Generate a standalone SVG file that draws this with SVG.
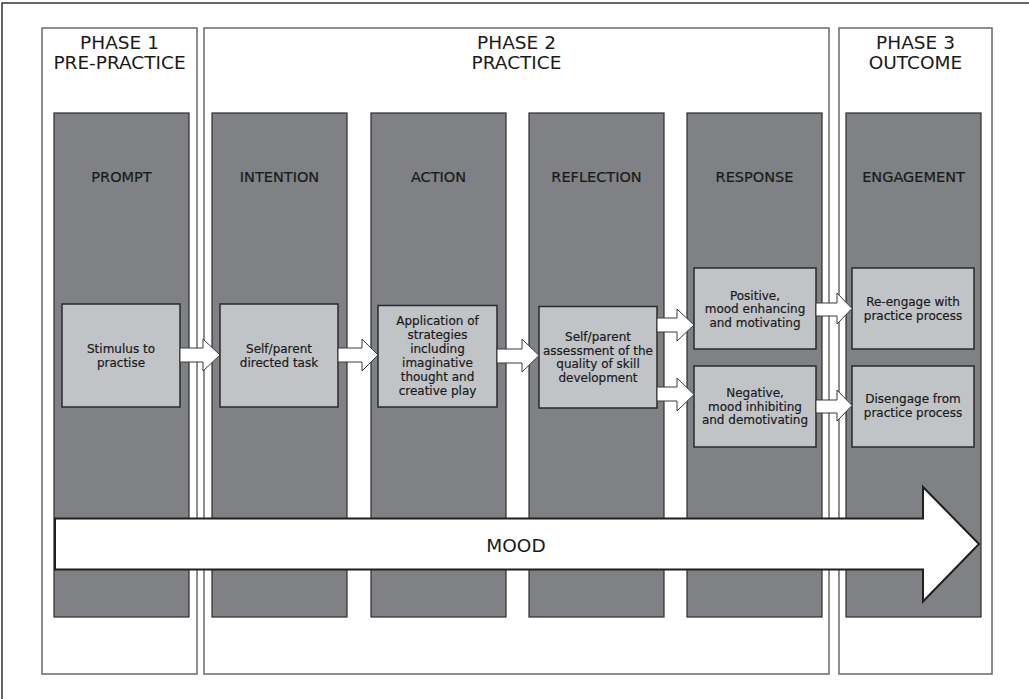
<svg xmlns="http://www.w3.org/2000/svg" width="1029" height="699" viewBox="0 0 1029 699">
<style>
.frame{fill:none;stroke:#333;stroke-width:1.5}
.phase{fill:#fff;stroke:#6a6a6a;stroke-width:1.5}
.col{fill:#7f8184;stroke:#2e2e2e;stroke-width:1.2}
.box{fill:#c1c4c7;stroke:#2a2a2a;stroke-width:1.5}
.arr{fill:#fff;stroke:#3a3a3a;stroke-width:1}
.mood{fill:#fff;stroke:#1e1e1e;stroke-width:2}
text{font-family:"DejaVu Sans","Liberation Sans",sans-serif;text-anchor:middle;fill:#1a1a1a;stroke:#1a1a1a;stroke-width:0.2}
.pt{font-size:18.5px;stroke:none}
.ch{font-size:14.5px}
.bt{font-size:12px}
</style>
<rect width="1029" height="699" fill="#fff"/>
<path class="frame" d="M2,699 V3 H1029"/>
<g id="phase1"><rect class="phase" x="42" y="28" width="155" height="646"/><text class="pt" x="119.5" y="49">PHASE 1</text><text class="pt" x="119.5" y="69">PRE-PRACTICE</text></g>
<g id="phase2"><rect class="phase" x="204" y="28" width="625" height="646"/><text class="pt" x="516.5" y="49">PHASE 2</text><text class="pt" x="516.5" y="69">PRACTICE</text></g>
<g id="phase3"><rect class="phase" x="839" y="28" width="153" height="646"/><text class="pt" x="915.5" y="49">PHASE 3</text><text class="pt" x="915.5" y="69">OUTCOME</text></g>
<g id="col-prompt"><rect class="col" x="54" y="113" width="135" height="504"/><text class="ch" x="121.5" y="182">PROMPT</text></g>
<g id="col-intention"><rect class="col" x="212" y="113" width="135" height="504"/><text class="ch" x="279.5" y="182">INTENTION</text></g>
<g id="col-action"><rect class="col" x="371" y="113" width="135" height="504"/><text class="ch" x="438.5" y="182">ACTION</text></g>
<g id="col-reflection"><rect class="col" x="529" y="113" width="135" height="504"/><text class="ch" x="596.5" y="182">REFLECTION</text></g>
<g id="col-response"><rect class="col" x="687" y="113" width="135" height="504"/><text class="ch" x="754.5" y="182">RESPONSE</text></g>
<g id="col-engagement"><rect class="col" x="846" y="113" width="135" height="504"/><text class="ch" x="913.5" y="182">ENGAGEMENT</text></g>
<g id="stimulus"><rect class="box" x="62" y="304" width="118" height="103"/><text class="bt" x="121" y="353">Stimulus to</text><text class="bt" x="121" y="366.5">practise</text></g>
<g id="directed"><rect class="box" x="220" y="304" width="118" height="103"/><text class="bt" x="279" y="353">Self/parent</text><text class="bt" x="279" y="366.5">directed task</text></g>
<g id="application"><rect class="box" x="378" y="305.5" width="119" height="101.5"/><text class="bt" x="437.5" y="325">Application of</text><text class="bt" x="437.5" y="339">strategies</text><text class="bt" x="437.5" y="353">including</text><text class="bt" x="437.5" y="367">imaginative</text><text class="bt" x="437.5" y="381">thought and</text><text class="bt" x="437.5" y="395">creative play</text></g>
<g id="assessment"><rect class="box" x="539" y="306.5" width="118" height="101.5"/><text class="bt" x="598" y="340.5">Self/parent</text><text class="bt" x="598" y="354.5">assessment of the</text><text class="bt" x="598" y="368">quality of skill</text><text class="bt" x="598" y="381.5">development</text></g>
<g id="positive"><rect class="box" x="694" y="268" width="122" height="81"/><text class="bt" x="755" y="299.5">Positive,</text><text class="bt" x="755" y="313">mood enhancing</text><text class="bt" x="755" y="326.5">and motivating</text></g>
<g id="negative"><rect class="box" x="694" y="366" width="122" height="81"/><text class="bt" x="755" y="397">Negative,</text><text class="bt" x="755" y="410.5">mood inhibiting</text><text class="bt" x="755" y="424">and demotivating</text></g>
<g id="reengage"><rect class="box" x="852" y="268" width="122" height="81"/><text class="bt" x="913" y="306">Re-engage with</text><text class="bt" x="913" y="320">practice process</text></g>
<g id="disengage"><rect class="box" x="852" y="366" width="122" height="81"/><text class="bt" x="913" y="403">Disengage from</text><text class="bt" x="913" y="417">practice process</text></g>
<g id="connectors">
<path class="arr" d="M180,348 H203 V339 L220,355 L203,371 V362 H180 Z"/>
<path class="arr" d="M338,348 H362 V339 L378,355 L362,371 V362 H338 Z"/>
<path class="arr" d="M497,349 H522 V339 L539,355.5 L522,372 V363 H497 Z"/>
<path class="arr" d="M657,318 H677 V309 L694,325 L677,341 V332 H657 Z"/>
<path class="arr" d="M657,387 H677 V378 L694,394.5 L677,411 V401 H657 Z"/>
<path class="arr" d="M816,303 H837 V293 L852,308.5 L837,324 V316 H816 Z"/>
<path class="arr" d="M816,400 H837 V390 L852,405.5 L837,421 V413 H816 Z"/>
</g>
<g id="mood"><path class="mood" d="M55,518.5 H923 V487 L979,544 L923,601.5 V569.5 H55 Z"/><text class="pt" x="516" y="552">MOOD</text></g>
</svg>
